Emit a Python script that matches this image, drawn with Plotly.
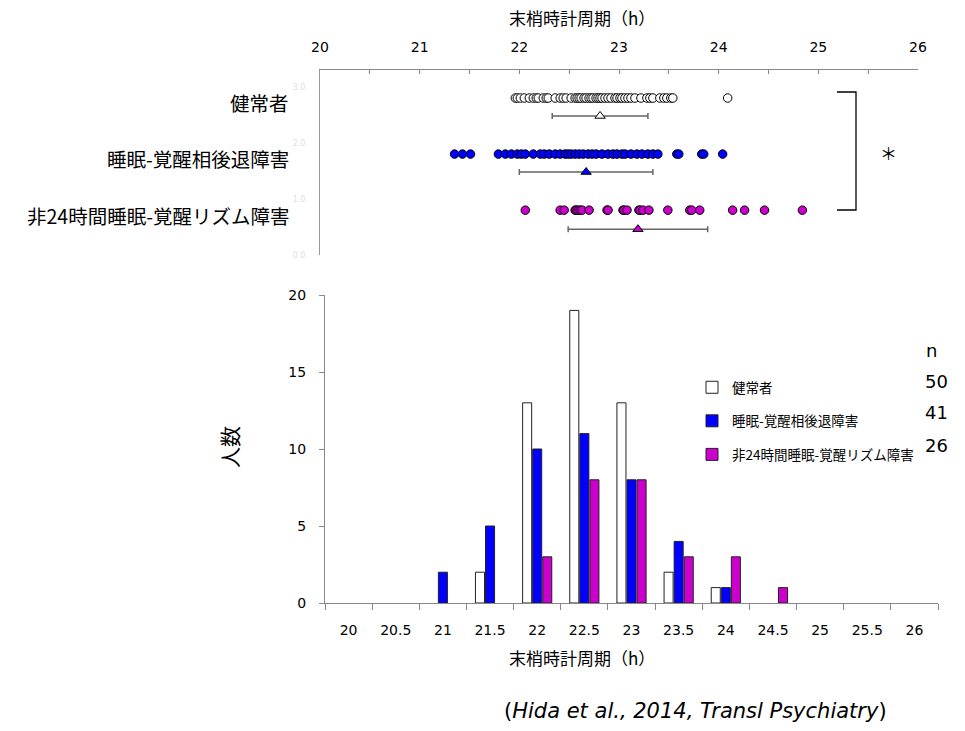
import plotly.graph_objects as go

W, H = 965, 731
FONT = "DejaVu Sans, Noto Sans CJK JP, sans-serif"
JFONT = "Noto Sans CJK JP, DejaVu Sans, sans-serif"

# ---------------- data ----------------
group_names = ["健常者", "睡眠-覚醒相後退障害", "非24時間睡眠-覚醒リズム障害"]
colors = ["#ffffff", "#0000ff", "#cc00cc"]

# histogram (bin labels, counts)
categories = ["20", "20.5", "21", "21.5", "22", "22.5", "23", "23.5",
              "24", "24.5", "25", "25.5", "26"]
counts_healthy = [0, 0, 0, 2, 13, 19, 13, 2, 1, 0, 0, 0, 0]
counts_dspd = [0, 0, 2, 5, 10, 11, 8, 4, 1, 0, 0, 0, 0]
counts_n24 = [0, 0, 0, 0, 3, 8, 8, 3, 3, 1, 0, 0, 0]

# individual peripheral clock periods (h)
periods_healthy = [21.96, 21.98,
                   22.01, 22.05, 22.10, 22.14, 22.17, 22.19, 22.24, 22.27, 22.29,
                   22.36, 22.41, 22.44, 22.47,
                   22.52, 22.56, 22.58, 22.60, 22.62, 22.65, 22.67, 22.70, 22.72,
                   22.74, 22.77, 22.79, 22.81, 22.83, 22.86, 22.89, 22.92, 22.96, 22.98,
                   23.01, 23.03, 23.06, 23.09, 23.12, 23.16, 23.22, 23.28, 23.31,
                   23.34, 23.41, 23.45, 23.48,
                   23.52, 23.54,
                   24.09]
periods_dspd = [21.35, 21.43,
                21.51, 21.79, 21.86, 21.92, 21.98,
                22.02, 22.06, 22.14, 22.21, 22.25, 22.30, 22.36, 22.41, 22.46, 22.49,
                22.52, 22.56, 22.60, 22.64, 22.69, 22.73, 22.77, 22.83, 22.89, 22.94, 22.98,
                23.03, 23.06, 23.12, 23.18, 23.23, 23.29, 23.34, 23.39,
                23.58, 23.60, 23.83, 23.85,
                24.04]
periods_n24 = [22.06, 22.41, 22.45,
               22.56, 22.57, 22.59, 22.61, 22.63, 22.70, 22.88, 22.89,
               23.04, 23.05, 23.08, 23.20, 23.21, 23.24, 23.30, 23.49,
               23.71, 23.73, 23.81,
               24.14, 24.26, 24.46,
               24.84]

means = [22.81, 22.67, 23.19]
sds = [0.48, 0.67, 0.70]
n_values = [50, 41, 26]

row_y = [2.8, 1.8, 0.8]      # dot rows in the upper panel
mean_y = [2.48, 1.48, 0.46]  # mean +/- SD rows
label_y = [2.72, 1.72, 0.71]

# ---------------- helpers ----------------
def px_x(p):
    return p / W


def px_y(p):
    return 1 - p / H


fig = go.Figure()

# ---------------- upper dot plot ----------------
periods = [periods_healthy, periods_dspd, periods_n24]
for i in range(3):
    fig.add_trace(go.Scatter(
        x=periods[i], y=[row_y[i]] * len(periods[i]),
        mode="markers", xaxis="x", yaxis="y", showlegend=False,
        marker=dict(symbol="circle", size=8.5, color=colors[i],
                    line=dict(color="#000000", width=1)),
        hoverinfo="x",
    ))
    fig.add_trace(go.Scatter(
        x=[means[i]], y=[mean_y[i]], mode="markers", xaxis="x", yaxis="y",
        showlegend=False,
        marker=dict(symbol="triangle-up", size=9, color=colors[i],
                    line=dict(color="#000000", width=1)),
        error_x=dict(type="data", array=[sds[i]], visible=True,
                     color="#666666", thickness=1.5, width=3),
    ))

# ---------------- lower histogram ----------------
counts = [counts_healthy, counts_dspd, counts_n24]
for i in range(3):
    fig.add_trace(go.Bar(
        x=categories, y=[c if c > 0 else None for c in counts[i]],
        name=group_names[i],
        xaxis="x2", yaxis="y2", legendgroup=f"g{i}",
        marker=dict(color=colors[i], line=dict(color="#222222", width=1)),
    ))

fig.update_layout(
    width=W, height=H,
    margin=dict(l=0, r=0, t=0, b=0, autoexpand=False),
    paper_bgcolor="white", plot_bgcolor="white",
    font=dict(family=FONT, size=13, color="#000000"),
    barmode="group", bargap=0.36, bargroupgap=0.1,
    xaxis=dict(
        domain=[px_x(320), px_x(918)], anchor="y", side="top",
        range=[20, 26], dtick=1, tick0=20, automargin=False,
        showline=True, linecolor="#888888", linewidth=1,
        ticks="inside", ticklen=4, tickcolor="#888888",
        minor=dict(dtick=0.5, ticks="inside", ticklen=4, tickcolor="#888888"),
        showgrid=False, zeroline=False, ticklabelstandoff=11,
        tickfont=dict(size=14, family=FONT),
    ),
    yaxis=dict(
        domain=[px_y(255), px_y(70)], anchor="x", automargin=False,
        range=[0, 3.3], tickvals=[0, 1, 2, 3],
        ticktext=["0.0", "1.0", "2.0", "3.0"],
        tickfont=dict(size=8, color="#e0e0e0"), ticklabelstandoff=12,
        showline=True, linecolor="#999999", linewidth=1,
        showgrid=False, zeroline=False, ticks="",
    ),
    xaxis2=dict(
        domain=[px_x(325), px_x(938)], anchor="y2", automargin=False,
        type="category", tickson="boundaries",
        showline=True, linecolor="#888888", linewidth=1,
        ticks="outside", ticklen=6, tickcolor="#888888",
        showgrid=False, zeroline=False, ticklabelstandoff=14,
        tickfont=dict(size=14, family=FONT),
    ),
    yaxis2=dict(
        domain=[px_y(603), px_y(295)], anchor="x2", automargin=False,
        range=[0, 20], dtick=5,
        showline=True, linecolor="#888888", linewidth=1,
        ticks="outside", ticklen=5, tickcolor="#888888",
        showgrid=False, zeroline=False, ticklabelstandoff=10,
        tickfont=dict(size=14, family=FONT),
    ),
    legend=dict(
        x=px_x(692), y=px_y(372), xanchor="left", yanchor="top",
        bgcolor="rgba(0,0,0,0)", font=dict(size=13.5, family=JFONT),
        tracegroupgap=13, itemwidth=30,
    ),
    showlegend=True,
)


def note(text, x, y, size, family=FONT, xanchor="center", yanchor="middle", **kw):
    return dict(text=text, xref="paper", yref="paper", x=px_x(x), y=px_y(y),
                xanchor=xanchor, yanchor=yanchor, showarrow=False,
                font=dict(size=size, family=family), **kw)


annotations = []
# row labels of upper panel
for i in range(3):
    annotations.append(dict(
        text=group_names[i], xref="paper", x=px_x(291), xanchor="right",
        yref="y", y=label_y[i], yanchor="middle", showarrow=False,
        font=dict(size=19.5, family=JFONT),
    ))
# axis titles
annotations.append(note("末梢時計周期（h）", 582, 18, 17, JFONT))
annotations.append(note("末梢時計周期（h）", 582, 657, 17, JFONT))
annotations.append(note("人数", 229, 447, 21, JFONT, textangle=-90))
# n column
annotations.append(note("n", 924, 350, 18, xanchor="left"))
n_y = [381, 412, 445]
for v, yy in zip(n_values, n_y):
    annotations.append(note(str(v), 923, yy, 18, xanchor="left"))
# significance asterisk
annotations.append(note("＊", 888, 152, 17, JFONT))
# citation
annotations.append(note("(<i>Hida et al., 2014, Transl Psychiatry</i>)", 695, 711, 21))
fig.update_layout(annotations=annotations)

# significance bracket
fig.add_shape(type="path", xref="paper", yref="paper",
              path=f"M {px_x(837)},{px_y(92)} L {px_x(856)},{px_y(92)} "
                   f"L {px_x(856)},{px_y(210)} L {px_x(837)},{px_y(210)}",
              line=dict(color="#000000", width=1.3))

fig.write_html("out.html", config={"displayModeBar": False},
               post_script="document.body.style.margin='0';"
                           "document.body.style.overflow='hidden';")
